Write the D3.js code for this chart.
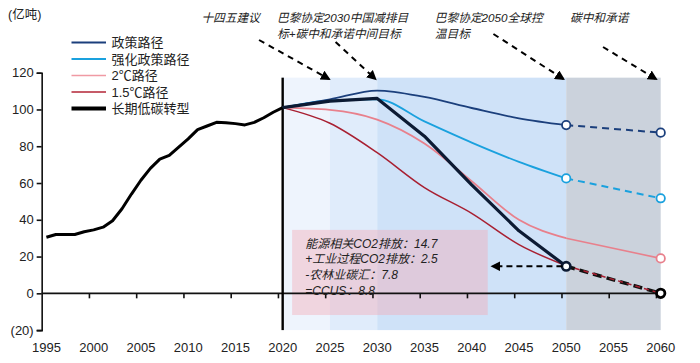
<!DOCTYPE html>
<html>
<head>
<meta charset="utf-8">
<script src="https://cdn.jsdelivr.net/npm/d3@7"></script>
<style>
  body { margin: 0; background: #fff; }
  svg { display: block; }
  text { font-family: "Liberation Sans", Arial, sans-serif; fill: #222; }
  .cjk { font-family: "Liberation Sans", "Noto Sans CJK SC", sans-serif; }
</style>
</head>
<body>
<svg id="chart" width="700" height="363"></svg>
<script>
// history 1995-2020 (亿吨)
var histYears = [1995, 1996, 1997, 1998, 1999, 2000, 2001, 2002, 2003, 2004, 2005, 2006, 2007,
  2008, 2009, 2010, 2011, 2012, 2013, 2014, 2015, 2016, 2017, 2018, 2019, 2020];
var histValues = [30.5, 32, 32, 32, 33.5, 34.5, 36, 39.5, 46, 54, 61.5, 68, 73, 75, 79.5, 84,
  89, 91, 93, 92.8, 92.3, 91.6, 93, 95.5, 98.5, 101];

// scenario paths 2020-2050
var projYears = [2020, 2025, 2030, 2035, 2040, 2045, 2050];
var policy = [101, 105.5, 110.3, 106.8, 100.8, 95.2, 91.5];
var enhanced = [101, 105, 105.5, 93.5, 82, 71.5, 62.5];
var deg2 = [101, 99.8, 94.5, 81.5, 61, 40, 30];
var deg15 = [101, 92.5, 76.5, 57.5, 43.5, 26.5, 15];
var lowCarbon = [101, 104.5, 106, 85.5, 59, 34, 14.7];

// 2050 -> 2060 extension
var extYears = [2050, 2060];
var policyExt = [91.5, 87.4];
var enhancedExt = [62.5, 51.7];
var deg2Ext = [30, 19];
var deg15Ext = [15, 0];
var lowCarbonExt = [14.7, 0];

var legendLabels = ["政策路径", "强化政策路径", "2℃路径", "1.5℃路径", "长期低碳转型"];
var yTicks = [120, 100, 80, 60, 40, 20, 0, -20];
var xLabels = [1995, 2000, 2005, 2010, 2015, 2020, 2025, 2030, 2035, 2040, 2045, 2050, 2055, 2060];
var periods = [[2020, 2025], [2025, 2030], [2030, 2050], [2050, 2060]];
var boxLines = ["能源相关CO2排放：14.7", "+工业过程CO2排放：2.5", "-农林业碳汇：7.8", "=CCUS：8.8"];
var notes = [
  { year: 2011.4, lines: ["十四五建议"] },
  { year: 2019.4, lines: ["巴黎协定2030中国减排目", "标+碳中和承诺中间目标"] },
  { year: 2036.1, lines: ["巴黎协定2050全球控", "温目标"] },
  { year: 2050.4, lines: ["碳中和承诺"] }
];
// arrow start / end years, start heights in px above the plot
var arrows = [[2017.5, 2024.9, 40], [2025.6, 2029.8, 42], [2042.3, 2049.7, 34], [2053.9, 2059.5, 47]];

var svg = d3.select("#chart");

var x = d3.scaleLinear().domain([1995, 2060]).range([46.4, 660.7]);
var y = d3.scaleLinear().domain([-20, 120]).range([330.1, 72.7]);

var bandColors = ["#eef4fd", "#e0ecfb", "#cfe2f8", "#cbd2dc"];

// shaded periods
svg.selectAll("rect.band")
  .data(periods)
  .enter()
  .append("rect")
  .attr("class", "band")
  .attr("x", function(d) { return x(d[0]); })
  .attr("width", function(d) { return x(d[1]) - x(d[0]); })
  .attr("y", y(117.3))
  .attr("height", y(-20) - y(117.3))
  .attr("fill", function(d, i) { return bandColors[i]; });

// pink note box
svg.append("rect")
  .attr("x", x(2021))
  .attr("y", y(34.5))
  .attr("width", x(2041.7) - x(2021))
  .attr("height", y(-11.8) - y(34.5))
  .attr("fill", "#f3a9b6")
  .attr("opacity", 0.42);

// y axis
var yAxis = d3.axisLeft(y)
  .tickValues(yTicks)
  .tickSize(5)
  .tickFormat(function(d) { return d < 0 ? "(" + (-d) + ")" : d; });
var gy = svg.append("g")
  .attr("transform", "translate(" + x(1994.5) + ",0)")
  .call(yAxis);
gy.select(".domain").attr("stroke", "#111").attr("stroke-width", 1.6);
gy.selectAll(".tick line").attr("stroke", "#111").attr("stroke-width", 1.6);
gy.selectAll(".tick text")
  .attr("x", -8)
  .style("font-size", "13px")
  .style("font-family", "Liberation Sans, Arial, sans-serif")
  .attr("fill", "#222");

// x axis at zero, ticks between categories
var boundaries = xLabels.map(function(d) { return d - 0.5; });
var xAxis = d3.axisBottom(x)
  .tickValues(boundaries.slice(1))
  .tickSize(5)
  .tickSizeOuter(0)
  .tickFormat("");
var gx = svg.append("g")
  .attr("transform", "translate(0," + y(0) + ")")
  .call(xAxis);
gx.select(".domain")
  .attr("d", "M" + x(1994.5) + ",0H" + x(2059.8))
  .attr("stroke", "#111").attr("stroke-width", 1.6);
gx.selectAll(".tick line").attr("stroke", "#111").attr("stroke-width", 1.6);

svg.selectAll("text.xlab")
  .data(xLabels)
  .enter()
  .append("text")
  .attr("class", "xlab")
  .attr("x", function(d) { return x(d); })
  .attr("y", 352)
  .attr("text-anchor", "middle")
  .style("font-size", "13px")
  .text(function(d) { return d; });

// 2020 divider
svg.append("line")
  .attr("x1", x(2020)).attr("x2", x(2020))
  .attr("y1", y(117.3)).attr("y2", y(-20))
  .attr("stroke", "#000")
  .attr("stroke-width", 2.4);

function pts(years, vals) {
  return years.map(function(yr, i) { return [yr, vals[i]]; });
}
var smooth = d3.line()
  .x(function(d) { return x(d[0]); })
  .y(function(d) { return y(d[1]); })
  .curve(d3.curveMonotoneX);
var straight = d3.line()
  .x(function(d) { return x(d[0]); })
  .y(function(d) { return y(d[1]); });

// extensions 2050-2060
svg.append("path").attr("d", straight(pts(extYears, policyExt)))
  .attr("fill", "none").attr("stroke", "#1b3f7c").attr("stroke-width", 2)
  .attr("stroke-dasharray", "7,5");
svg.append("path").attr("d", straight(pts(extYears, enhancedExt)))
  .attr("fill", "none").attr("stroke", "#1aa1de").attr("stroke-width", 2)
  .attr("stroke-dasharray", "7,5");
svg.append("path").attr("d", straight(pts(extYears, deg2Ext)))
  .attr("fill", "none").attr("stroke", "#e8808c").attr("stroke-width", 1.6);
svg.append("path").attr("d", straight(pts(extYears, lowCarbonExt)))
  .attr("fill", "none").attr("stroke", "#111").attr("stroke-width", 3.5)
  .attr("stroke-dasharray", "9,5");
svg.append("path").attr("d", straight(pts(extYears, deg15Ext)))
  .attr("fill", "none").attr("stroke", "#a81f31").attr("stroke-width", 1.5)
  .attr("stroke-dasharray", "5,4").attr("stroke-dashoffset", -9);

// scenario lines
var scen = [
  { vals: deg15, color: "#a81f31", w: 1.5 },
  { vals: deg2, color: "#e8808c", w: 1.8 },
  { vals: enhanced, color: "#1aa1de", w: 1.8 },
  { vals: policy, color: "#1b3f7c", w: 1.8 }
];
scen.forEach(function(s) {
  svg.append("path")
    .attr("d", smooth(pts(projYears, s.vals)))
    .attr("fill", "none")
    .attr("stroke", s.color)
    .attr("stroke-width", s.w);
});
svg.append("path")
  .attr("d", straight(pts(projYears, lowCarbon)))
  .attr("fill", "none")
  .attr("stroke", "#0c1a33")
  .attr("stroke-width", 3.2)
  .attr("stroke-linejoin", "round");

// history
svg.append("path")
  .attr("d", straight(pts(histYears, histValues)))
  .attr("fill", "none")
  .attr("stroke", "#000")
  .attr("stroke-width", 3)
  .attr("stroke-linejoin", "round");

// markers
var markers = [
  [2050, policy[6], "#1b3f7c", 1.8], [2060, policyExt[1], "#1b3f7c", 1.8],
  [2050, enhanced[6], "#1aa1de", 1.8], [2060, enhancedExt[1], "#1aa1de", 1.8],
  [2060, deg2Ext[1], "#e8808c", 1.8],
  [2050, lowCarbon[6], "#0c1a33", 2.6], [2060, lowCarbonExt[1], "#000", 2.8]
];
svg.selectAll("circle.mk")
  .data(markers)
  .enter()
  .append("circle")
  .attr("class", "mk")
  .attr("cx", function(d) { return x(d[0]); })
  .attr("cy", function(d) { return y(d[1]); })
  .attr("r", 4.2)
  .attr("fill", "#fff")
  .attr("stroke", function(d) { return d[2]; })
  .attr("stroke-width", function(d) { return d[3]; });

// arrowheads
var defs = svg.append("defs");
defs.append("marker")
  .attr("id", "head")
  .attr("viewBox", "0 0 10 10")
  .attr("refX", 8).attr("refY", 5)
  .attr("markerWidth", 5).attr("markerHeight", 5)
  .attr("markerUnits", "strokeWidth")
  .attr("orient", "auto")
  .append("path")
  .attr("d", "M0,0L10,5L0,10Z")
  .attr("fill", "#000");

svg.selectAll("line.arr")
  .data(arrows)
  .enter()
  .append("line")
  .attr("class", "arr")
  .attr("x1", function(d) { return x(d[0]); })
  .attr("y1", function(d) { return d[2]; })
  .attr("x2", function(d) { return x(d[1]); })
  .attr("y2", 79)
  .attr("stroke", "#000")
  .attr("stroke-width", 2)
  .attr("stroke-dasharray", "6,5")
  .attr("marker-end", "url(#head)");

svg.append("line")
  .attr("x1", x(2049.6)).attr("x2", x(2042.2))
  .attr("y1", y(lowCarbon[6])).attr("y2", y(lowCarbon[6]))
  .attr("stroke", "#000")
  .attr("stroke-width", 2)
  .attr("stroke-dasharray", "6,4")
  .attr("marker-end", "url(#head)");

// top notes
notes.forEach(function(n) {
  n.lines.forEach(function(t, j) {
    svg.append("text")
      .attr("class", "cjk")
      .attr("x", x(n.year))
      .attr("y", 22 + j * 16)
      .style("font-size", "11.7px")
      .style("font-style", "italic")
      .attr("fill", "#333")
      .text(t);
  });
});

// box text
svg.selectAll("text.box")
  .data(boxLines)
  .enter()
  .append("text")
  .attr("class", "box cjk")
  .attr("x", x(2022.4))
  .attr("y", function(d, i) { return 247.5 + i * 15.8; })
  .style("font-size", "12px")
  .style("font-style", "italic")
  .attr("fill", "#333")
  .text(function(d) { return d; });

// legend
var legColors = ["#1b3f7c", "#1aa1de", "#f09aa4", "#b32436", "#000"];
var legWidths = [2, 2, 1.6, 1.6, 4];
var leg = svg.append("g");
legendLabels.forEach(function(l, i) {
  var ly = 42.5 + i * 16.5;
  leg.append("line")
    .attr("x1", 71.5).attr("x2", 106)
    .attr("y1", ly).attr("y2", ly)
    .attr("stroke", legColors[i])
    .attr("stroke-width", legWidths[i]);
  leg.append("text")
    .attr("class", "cjk")
    .attr("x", 111.5)
    .attr("y", ly + 4.8)
    .style("font-size", "13px")
    .attr("fill", "#333")
    .text(l);
});

svg.append("text")
  .attr("class", "cjk")
  .attr("x", 8)
  .attr("y", 19)
  .style("font-size", "12.5px")
  .attr("fill", "#333")
  .text("(亿吨)");
</script>
</body>
</html>
